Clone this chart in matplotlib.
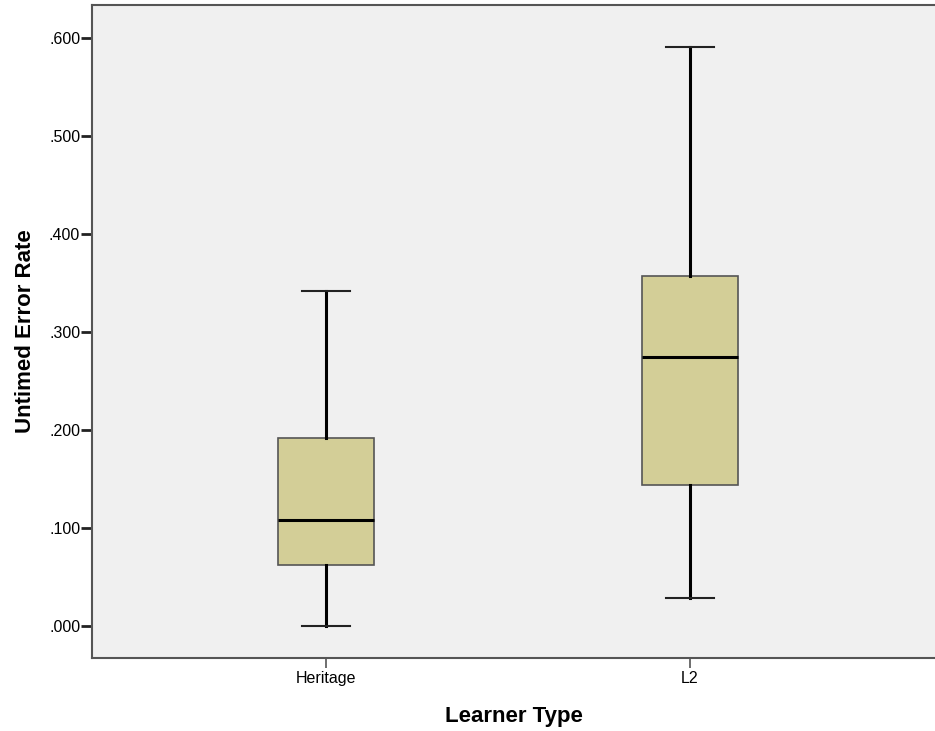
import matplotlib.pyplot as plt

# Kategorien und Boxplot-Kennwerte
gruppen = ['Heritage', 'L2']
minimum = [0.000, 0.029]
q1 = [0.062, 0.144]
median = [0.108, 0.275]
q3 = [0.192, 0.357]
maximum = [0.342, 0.591]

plt.rcParams['font.family'] = ['Liberation Sans', 'DejaVu Sans']

fig = plt.figure(figsize=(9.35, 7.31), dpi=100)
ax = fig.add_axes([92 / 935, 73 / 731, 1 - 92 / 935, 653 / 731])
ax.set_facecolor('#f0f0f0')

stats = []
for i, name in enumerate(gruppen):
    stats.append({'label': name, 'whislo': minimum[i], 'q1': q1[i], 'med': median[i],
                  'q3': q3[i], 'whishi': maximum[i], 'fliers': []})

pos = [1, 2]
ax.bxp(stats, positions=pos, widths=0.264, patch_artist=True, showfliers=False,
       boxprops=dict(facecolor='#d3ce97', edgecolor='#555555', linewidth=1.2),
       medianprops=dict(color='black', linewidth=2.2),
       whiskerprops=dict(color='black', linewidth=2.2),
       capprops=dict(color='#222222', linewidth=1.5),
       capwidths=0.132)

ax.set_xlim(1 - 234 / 364, 2 + 245 / 364)
ax.set_ylim(-0.0327, 0.634)
ax.set_yticks([0, 0.1, 0.2, 0.3, 0.4, 0.5, 0.6])
ax.set_yticklabels(['.000', '.100', '.200', '.300', '.400', '.500', '.600'])
ax.set_xticks(pos)
ax.set_xticklabels(gruppen)

ax.spines['right'].set_visible(False)
for s in ['left', 'bottom', 'top']:
    ax.spines[s].set_color('#555555')
    ax.spines[s].set_linewidth(1.5)
ax.tick_params(axis='y', length=8, width=2, color='#222222', labelsize=11.5, pad=0.5)
ax.tick_params(axis='x', length=7.5, width=1.2, color='#555555', labelsize=11.5, pad=2)

ax.set_ylabel('Untimed Error Rate', fontsize=16, fontweight='bold', labelpad=9)
ax.set_xlabel('Learner Type', fontsize=16, fontweight='bold', labelpad=14)

plt.savefig('out.png', dpi=100)
